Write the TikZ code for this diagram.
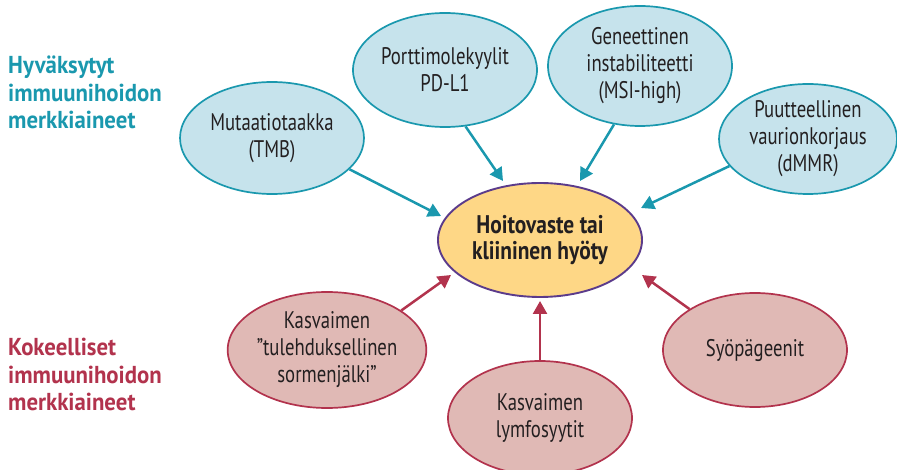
\documentclass[tikz,border=0pt]{standalone}
\usepackage{fontspec}
\setmainfont{PT Sans}[FakeStretch=0.78,BoldFeatures={FakeStretch=0.84}]
\newfontfamily\sidefont{PT Sans}[FakeStretch=0.93]
\usetikzlibrary{shapes.geometric,arrows.meta}
\definecolor{teal}{HTML}{1A98AE}
\definecolor{bluefill}{HTML}{C6E3EC}
\definecolor{crim}{HTML}{B2334D}
\definecolor{pinkfill}{HTML}{E0B9B5}
\definecolor{yel}{HTML}{FED786}
\definecolor{purp}{HTML}{5B3B8B}
\definecolor{txt}{HTML}{231F20}
\tikzset{
  okell/.style={ellipse,draw=teal,line width=1.7pt,fill=bluefill,inner sep=0pt,align=center,text=txt,font=\fontsize{24}{27}\selectfont},
  expell/.style={ellipse,draw=crim,line width=1.7pt,fill=pinkfill,inner sep=0pt,align=center,text=txt,font=\fontsize{24}{27}\selectfont},
  okarr/.style={draw=teal,line width=2.5pt,-{Triangle[length=13pt,width=14pt]}},
  exparr/.style={draw=crim,line width=2.5pt,-{Triangle[length=13pt,width=14pt]}},
  sidelabel/.style={anchor=north west,align=left,inner sep=0pt,font=\sidefont\bfseries\fontsize{24.5}{27.5}\selectfont}
}
\begin{document}
\begin{tikzpicture}[x=1pt,y=-1pt]
\useasboundingbox (0,0) rectangle (897,470);
\node[sidelabel,text=teal] (lblA) at (8,56) {Hyväksytyt\\immuunihoidon\\merkkiaineet};
\node[sidelabel,text=crim] (lblB) at (8,338) {Kokeelliset\\immuunihoidon\\merkkiaineet};

\node[ellipse,draw=purp,line width=1.9pt,fill=yel,minimum width=204pt,minimum height=114pt,inner sep=0pt,align=center,text=txt,font=\bfseries\fontsize{25.5}{26}\selectfont] (ctr) at (540,240) {Hoitovaste tai\\kliininen hyöty};

\node[okell,minimum width=184pt,minimum height=112pt] (muta) at (272,138) {Mutaatiotaakka\\(TMB)};
\node[okell,minimum width=184pt,minimum height=114pt] (port) at (445,70) {Porttimolekyylit\\PD-L1};
\node[okell,minimum width=184pt,minimum height=120pt] (gen) at (640,66) {Geneettinen\\instabiliteetti\\(MSI-high)};
\node[okell,minimum width=178pt,minimum height=110pt] (puut) at (808,139) {Puutteellinen\\vaurionkorjaus\\(dMMR)};

\node[expell,minimum width=180pt,minimum height=116pt] (tul) at (327,350) {Kasvaimen\\”tulehduksellinen\\sormenjälki”};
\node[expell,minimum width=184pt,minimum height=114pt] (lym) at (540,418) {Kasvaimen\\lymfosyytit};
\node[expell,minimum width=184pt,minimum height=114pt] (syo) at (755,350) {Syöpägeenit};

\coordinate (tMuta) at (441,216);
\coordinate (tPort) at (503,181);
\coordinate (tGen) at (580,181);
\coordinate (tPuut) at (641,208);
\coordinate (tTul) at (451,275);
\coordinate (tLym) at (540,301);
\coordinate (tSyo) at (642,275);

\draw[okarr] (muta.-22) -- (tMuta);
\draw[okarr] (port.-70) -- (tPort);
\draw[okarr] (gen.-114) -- (tGen);
\draw[okarr] (puut.199) -- (tPuut);
\draw[exparr] (tul.28) -- (tTul);
\draw[exparr] (lym.90) -- (tLym);
\draw[exparr] (syo.148) -- (tSyo);
\end{tikzpicture}
\end{document}
